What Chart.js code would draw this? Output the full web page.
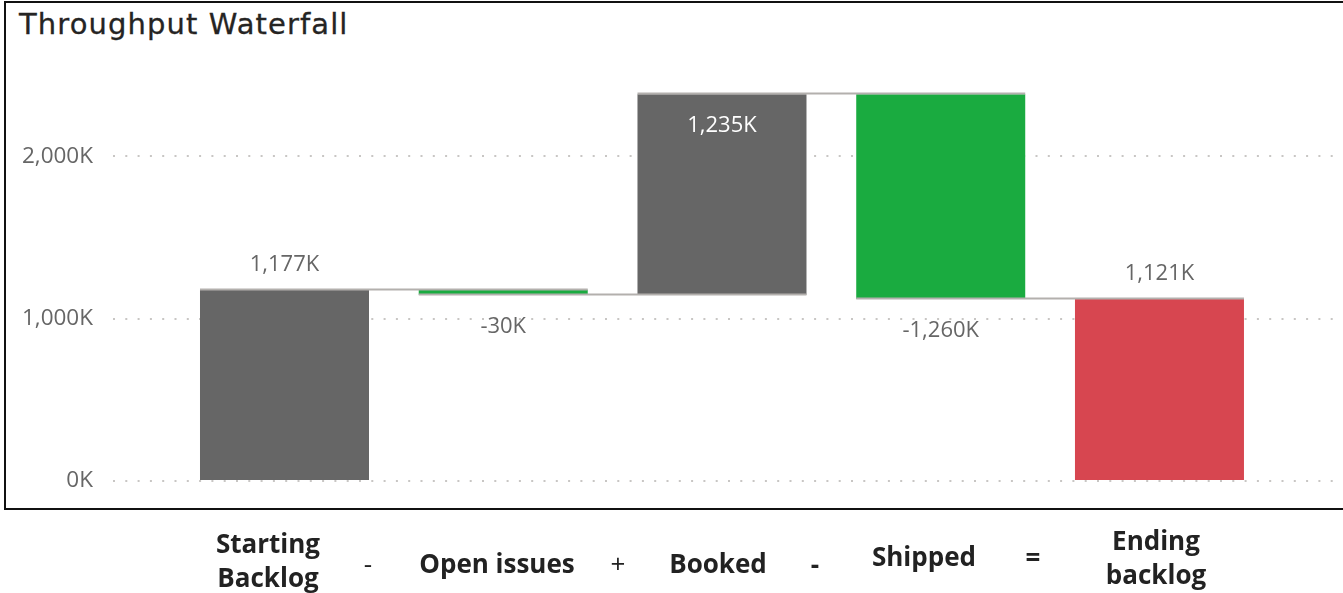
<!DOCTYPE html>
<html>
<head>
<meta charset="utf-8">
<title>Throughput Waterfall</title>
<script src="https://cdn.jsdelivr.net/npm/chart.js@4.4.1/dist/chart.umd.min.js"></script>
<style>
    html, body { margin: 0; padding: 0; background: #fff; overflow: hidden; }
    body { width: 1343px; height: 593px; position: relative; font-family: "Open Sans", sans-serif; }
    .frame {
        position: absolute; left: 4px; top: 1px; width: 1400px; height: 505px;
        border: 2px solid #111; box-sizing: content-box;
    }
    .title {
        position: absolute; left: 19px; top: 7px;
        font-family: "DejaVu Sans", sans-serif; font-size: 29px; color: #252423;
        letter-spacing: 1.1px; white-space: nowrap;
        -webkit-text-stroke: 0.3px #252423;
    }
    #chart { position: absolute; left: 0; top: 0; }
    .lbl {
        position: absolute; transform: translate(-50%, -50%);
        font-weight: 700; font-size: 26px; color: #222; text-align: center;
        line-height: 34px; white-space: nowrap;
    }
    .op { font-weight: 400; }
</style>
</head>
<body>
<div class="frame"></div>
<div class="title">Throughput Waterfall</div>
<canvas id="chart" width="1343" height="593"></canvas>

<div class="lbl" style="left:268px; top:560px;">Starting<br>Backlog</div>
<div class="lbl op" style="left:368px; top:563px;">-</div>
<div class="lbl" style="left:497px; top:563px;">Open issues</div>
<div class="lbl op" style="left:618px; top:563px;">+</div>
<div class="lbl" style="left:718px; top:563px;">Booked</div>
<div class="lbl" style="left:815px; top:564px;">-</div>
<div class="lbl" style="left:924px; top:556px;">Shipped</div>
<div class="lbl" style="left:1033px; top:557px;">=</div>
<div class="lbl" style="left:1156px; top:557px;">Ending<br>backlog</div>

<script>
// Waterfall data (in thousands)
const categories = ['Starting Backlog', 'Open issues', 'Booked', 'Shipped', 'Ending backlog'];
const values = [1177, -30, 1235, -1260, 1121];
const isTotal = [true, false, false, false, true];
const barColors = ['#666666', '#1aab40', '#666666', '#1aab40', '#d74650'];
const yTicks = [0, 1000, 2000];

// Build floating bars [low, high] from running total
const ranges = [];
const levels = [];
let running = 0;
values.forEach((v, i) => {
    if (isTotal[i]) {
        ranges.push([0, v]);
        running = v;
    } else {
        const start = running;
        running += v;
        ranges.push([Math.min(start, running), Math.max(start, running)]);
    }
    levels.push(running);
});

const fmt = v => v.toLocaleString('en-US') + 'K';

// Connector lines + data labels
const waterfallPlugin = {
    id: 'waterfall',
    afterDatasetsDraw(chart) {
        const ctx = chart.ctx;
        const meta = chart.getDatasetMeta(0);
        const y = chart.scales.y;
        const area = chart.chartArea;

        // connectors: each level from bar i left edge to bar i+1 right edge
        ctx.save();
        ctx.strokeStyle = '#b3b0ad';
        ctx.lineWidth = 2;
        for (let i = 0; i < meta.data.length - 1; i++) {
            const a = meta.data[i], b = meta.data[i + 1];
            const ly = Math.round(y.getPixelForValue(levels[i])) - 0.5;
            ctx.beginPath();
            ctx.moveTo(a.x - a.width / 2, ly);
            ctx.lineTo(b.x + b.width / 2, ly);
            ctx.stroke();
        }
        ctx.restore();

        // labels
        ctx.save();
        ctx.font = '22px "Open Sans"';
        ctx.textAlign = 'center';
        ctx.textBaseline = 'middle';
        meta.data.forEach((bar, i) => {
            const v = values[i];
            const top = y.getPixelForValue(ranges[i][1]);
            const bottom = y.getPixelForValue(ranges[i][0]);
            let ty, color = '#666666';
            if (v < 0) {
                ty = bottom + 32;
            } else if (top - 25 - 12 < area.top) {
                ty = top + 32;
                color = '#ffffff';
            } else {
                ty = top - 25;
            }
            ctx.fillStyle = color;
            ctx.fillText(fmt(v), bar.x, ty);
        });
        ctx.restore();
    }
};

new Chart(document.getElementById('chart'), {
    type: 'bar',
    data: {
        datasets: [{
            data: ranges.map((r, i) => ({ x: i, y: r })),
            backgroundColor: barColors,
            borderWidth: 0,
            barPercentage: 0.7726,
            categoryPercentage: 1
        }]
    },
    options: {
        responsive: false,
        animation: false,
        layout: { padding: { top: 75, bottom: 112, left: 0, right: 0 } },
        plugins: {
            legend: { display: false },
            tooltip: { enabled: false },
            title: { display: false }
        },
        scales: {
            x: {
                type: 'linear',
                min: -0.784,
                max: 4.839,
                offset: false,
                display: false,
                afterBuildTicks: scale => {
                    scale.ticks = categories.map((c, i) => ({ value: i }));
                }
            },
            y: {
                min: 0,
                max: 2500,
                afterBuildTicks: scale => {
                    scale.ticks = yTicks.map(v => ({ value: v }));
                },
                afterFit: scale => { scale.width = 113; },
                border: { display: false, dash: [2, 10.3] },
                grid: {
                    color: '#c8c6c4',
                    lineWidth: 2,
                    drawTicks: false
                },
                ticks: {
                    padding: 20,
                    color: '#666666',
                    font: { family: 'Open Sans', size: 22.5 },
                    callback: v => fmt(v)
                }
            }
        }
    },
    plugins: [waterfallPlugin]
});
</script>
</body>
</html>
